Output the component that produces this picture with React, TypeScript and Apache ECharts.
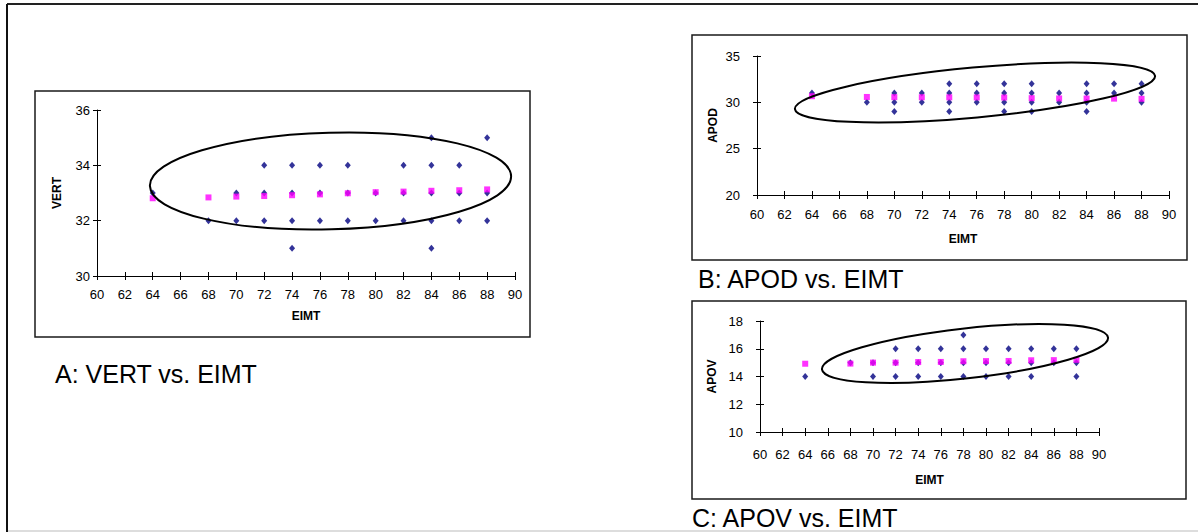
import React, { useEffect, useRef } from "react";
import * as echarts from "echarts";

// EIMT categories (x)
const eimt = [64, 68, 70, 72, 74, 76, 78, 80, 82, 84, 86, 88];

// Panel A: VERT observed [EIMT, VERT]
const vertObserved: number[][] = [
  [64, 33], [68, 32], [70, 33], [70, 32],
  [72, 34], [72, 33], [72, 32],
  [74, 34], [74, 33], [74, 32], [74, 31],
  [76, 34], [76, 33], [76, 32],
  [78, 34], [78, 33], [78, 32],
  [80, 33], [80, 32],
  [82, 34], [82, 33], [82, 32],
  [84, 35], [84, 34], [84, 33], [84, 32], [84, 31],
  [86, 34], [86, 33], [86, 32],
  [88, 35], [88, 33], [88, 32],
];
const vertPredicted = [32.81, 32.84, 32.87, 32.89, 32.92, 32.95, 32.99, 33.03, 33.05, 33.08, 33.1, 33.13];

// Panel B: APOD observed [EIMT, APOD]
const apodObserved: number[][] = [
  [64, 31], [68, 30],
  [70, 31], [70, 30], [70, 29],
  [72, 31], [72, 30],
  [74, 32], [74, 31], [74, 30], [74, 29],
  [76, 32], [76, 31], [76, 30],
  [78, 32], [78, 31], [78, 30], [78, 29],
  [80, 32], [80, 31], [80, 30], [80, 29],
  [82, 31], [82, 30],
  [84, 32], [84, 31], [84, 30], [84, 29],
  [86, 32], [86, 31],
  [88, 32], [88, 31], [88, 30],
];
const apodPredicted = [30.66, 30.58, 30.56, 30.55, 30.54, 30.53, 30.52, 30.45, 30.42, 30.41, 30.4, 30.38];

// Panel C: APOV observed [EIMT, APOV]
const apovObserved: number[][] = [
  [64, 14], [68, 15],
  [70, 15], [70, 14],
  [72, 16], [72, 15], [72, 14],
  [74, 16], [74, 15], [74, 14],
  [76, 16], [76, 15], [76, 14],
  [78, 17], [78, 16], [78, 15], [78, 14],
  [80, 16], [80, 15], [80, 14],
  [82, 16], [82, 15], [82, 14],
  [84, 16], [84, 15], [84, 14],
  [86, 16], [86, 15],
  [88, 16], [88, 15], [88, 14],
];
const apovPredicted = [14.92, 14.93, 15.0, 15.0, 15.04, 15.05, 15.1, 15.11, 15.12, 15.17, 15.18, 15.2];

const captions = ["A: VERT vs. EIMT", "B: APOD vs. EIMT", "C: APOV vs. EIMT"];
const yNames = ["VERT", "APOD", "APOV"];
const xName = "EIMT";

const FONT = "'Liberation Sans', Arial, sans-serif";
const NAVY = "#000080";
const MAGENTA = "#FF00FF";

export default function App() {
  const ref = useRef<HTMLDivElement>(null);

  useEffect(() => {
    if (!ref.current) return;
    const chart = echarts.init(ref.current, undefined, { renderer: "svg" });

    const grids = [
      { left: 97, top: 110, width: 418, height: 166 },
      { left: 757, top: 56, width: 412, height: 139 },
      { left: 760, top: 321, width: 339, height: 111 },
    ];
    const yRanges = [
      { min: 30, max: 36, interval: 2 },
      { min: 20, max: 35, interval: 5 },
      { min: 10, max: 18, interval: 2 },
    ];
    const xLabelMargin = [12, 13, 16];
    const yLabelMargin = [7, 17, 17];
    const xNameGap = [34, 38, 42];
    const yNameGap = [34, 38, 42];

    const xAxes: any[] = [];
    const yAxes: any[] = [];
    grids.forEach((_, i) => {
      xAxes.push({
        gridIndex: i,
        type: "value",
        position: "bottom",
        min: 60,
        max: 90,
        interval: 2,
        name: xName,
        nameLocation: "middle",
        nameGap: xNameGap[i],
        nameTextStyle: { fontFamily: FONT, fontSize: 12, fontWeight: "bold", color: "#000" },
        axisLine: { show: true, onZero: false, lineStyle: { color: "#000", width: 1 } },
        axisTick: { show: true, inside: false, length: 4, lineStyle: { color: "#000" } },
        axisLabel: { fontFamily: FONT, fontSize: 13, color: "#000", margin: xLabelMargin[i] },
        splitLine: { show: false },
      });
      yAxes.push({
        gridIndex: i,
        type: "value",
        position: "left",
        min: yRanges[i].min,
        max: yRanges[i].max,
        interval: yRanges[i].interval,
        name: yNames[i],
        nameLocation: "middle",
        nameGap: yNameGap[i],
        nameRotate: 90,
        nameTextStyle: { fontFamily: FONT, fontSize: 12, fontWeight: "bold", color: "#000" },
        axisLine: { show: true, onZero: false, lineStyle: { color: "#000", width: 1 } },
        axisTick: { show: true, inside: false, length: 4, lineStyle: { color: "#000" } },
        axisLabel: { fontFamily: FONT, fontSize: 13, color: "#000", margin: yLabelMargin[i] },
        splitLine: { show: false },
      });
    });
    // overlay axes for inward tick halves (cross ticks)
    grids.forEach((_, i) => {
      xAxes.push({
        gridIndex: i,
        type: "value",
        position: "bottom",
        offset: 0,
        min: 60,
        max: 90,
        interval: 2,
        axisLine: { show: false, onZero: false },
        axisTick: { show: true, inside: true, length: 4, lineStyle: { color: "#000" } },
        axisLabel: { show: false },
        splitLine: { show: false },
      });
      yAxes.push({
        gridIndex: i,
        type: "value",
        position: "left",
        offset: 0,
        min: yRanges[i].min,
        max: yRanges[i].max,
        interval: yRanges[i].interval,
        axisLine: { show: false, onZero: false },
        axisTick: { show: true, inside: true, length: 4, lineStyle: { color: "#000" } },
        axisLabel: { show: false },
        splitLine: { show: false },
      });
    });

    const observed = [vertObserved, apodObserved, apovObserved];
    const predicted = [vertPredicted, apodPredicted, apovPredicted];
    const series: any[] = [];
    observed.forEach((obs, i) => {
      series.push({
        type: "scatter",
        xAxisIndex: i,
        yAxisIndex: i,
        data: obs,
        symbol: "diamond",
        symbolSize: [6, 7],
        itemStyle: { color: NAVY },
        z: 2,
      });
    });
    predicted.forEach((pred, i) => {
      series.push({
        type: "scatter",
        xAxisIndex: i,
        yAxisIndex: i,
        data: eimt.map((x, k) => [x, pred[k]]),
        symbol: "rect",
        symbolSize: 6,
        itemStyle: { color: MAGENTA },
        z: 3,
      });
    });

    const boxStyle = { fill: "none", stroke: "#1a1a1a", lineWidth: 1.5 };
    const ellStyle = { fill: "none", stroke: "#000", lineWidth: 2 };
    const capFont = `25px ${FONT}`;

    const graphic: any[] = [
      // outer frame
      { type: "line", shape: { x1: 7, y1: 4, x2: 1198, y2: 4 }, style: { stroke: "#222", lineWidth: 2 }, silent: true },
      { type: "line", shape: { x1: 7, y1: 4, x2: 7, y2: 532 }, style: { stroke: "#111", lineWidth: 2 }, silent: true },
      { type: "line", shape: { x1: 8, y1: 531, x2: 1198, y2: 531 }, style: { stroke: "#bbb", lineWidth: 1 }, silent: true },
      // panel boxes
      { type: "rect", shape: { x: 35, y: 91, width: 495, height: 246 }, style: boxStyle, silent: true, z: -1 },
      { type: "rect", shape: { x: 692, y: 35, width: 495, height: 225 }, style: boxStyle, silent: true, z: -1 },
      { type: "rect", shape: { x: 692, y: 301, width: 494, height: 198 }, style: boxStyle, silent: true, z: -1 },
      // ellipses
      { type: "ellipse", x: 330.5, y: 181, rotation: 0.027, shape: { cx: 0, cy: 0, rx: 180.6, ry: 48.3 }, style: ellStyle, silent: true, z: 100 },
      { type: "ellipse", x: 975, y: 92.5, rotation: 0.092, shape: { cx: 0, cy: 0, rx: 180.8, ry: 25 }, style: ellStyle, silent: true, z: 100 },
      { type: "ellipse", x: 965, y: 353.5, rotation: 0.111, shape: { cx: 0, cy: 0, rx: 143.9, ry: 25 }, style: ellStyle, silent: true, z: 100 },
      // captions
      { type: "text", x: 55, y: 374, style: { text: captions[0], font: capFont, fill: "#000", verticalAlign: "middle", align: "left" }, silent: true },
      { type: "text", x: 698, y: 279, style: { text: captions[1], font: capFont, fill: "#000", verticalAlign: "middle", align: "left" }, silent: true },
      { type: "text", x: 692, y: 517.5, style: { text: captions[2], font: capFont, fill: "#000", verticalAlign: "middle", align: "left" }, silent: true },
    ];

    chart.setOption({
      animation: false,
      backgroundColor: "#fff",
      grid: grids.map((g) => ({ ...g, containLabel: false, show: false })),
      xAxis: xAxes,
      yAxis: yAxes,
      series,
      graphic,
    });

    return () => chart.dispose();
  }, []);

  return (
    <div
      ref={ref}
      style={{ position: "fixed", left: 0, top: 0, width: 1198, height: 532, background: "#fff" }}
    />
  );
}
